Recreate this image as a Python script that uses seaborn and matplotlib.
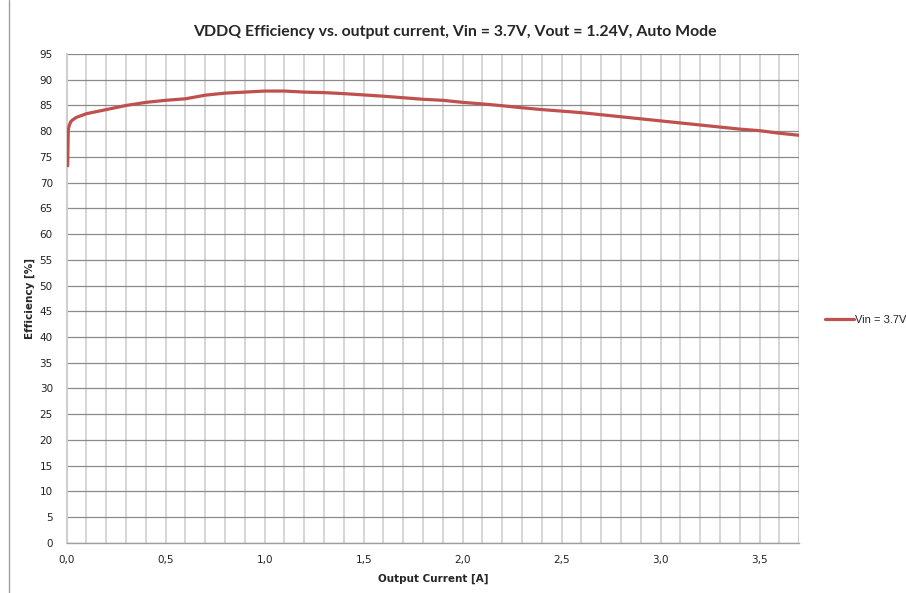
import numpy as np
import pandas as pd
import matplotlib
matplotlib.use("Agg")
import matplotlib.pyplot as plt
from matplotlib.ticker import MultipleLocator, FuncFormatter
from matplotlib.lines import Line2D
import seaborn as sns

# values
current = [0.005, 0.008, 0.012, 0.02, 0.03, 0.05, 0.1, 0.2, 0.3, 0.4, 0.5,
           0.6, 0.7, 0.8, 0.9, 1.0, 1.1, 1.2, 1.3, 1.4, 1.5, 1.6, 1.7, 1.8,
           1.9, 2.0, 2.1, 2.2, 2.3, 2.4, 2.5, 2.6, 2.7, 2.8, 2.9, 3.0, 3.1,
           3.2, 3.3, 3.4, 3.5, 3.6, 3.7]
efficiency = [73.3, 80.2, 81.0, 81.8, 82.2, 82.7, 83.4, 84.2, 85.0, 85.6, 86.0,
              86.3, 87.0, 87.4, 87.6, 87.8, 87.8, 87.6, 87.5, 87.3, 87.05, 86.8, 86.5, 86.2,
              86.0, 85.6, 85.3, 84.95, 84.55, 84.2, 83.9, 83.6, 83.2, 82.8, 82.4, 82.0, 81.6,
              81.2, 80.8, 80.4, 80.1, 79.6, 79.2]
series_name = "Vin = 3.7V"

df = pd.DataFrame({"Output Current [A]": current, "Efficiency [%]": efficiency})
df["series"] = series_name

sns.set_style("white")
plt.rcParams["font.family"] = ["DejaVu Sans"]

fig = plt.figure(figsize=(9.06, 5.93), dpi=100)
ax = fig.add_axes([0.0736, 0.0848, 0.8086, 0.8241])

sns.lineplot(data=df, x="Output Current [A]", y="Efficiency [%]", hue="series",
             palette=["#C0504D"], linewidth=2.3, ax=ax, legend=False, zorder=5)

ax.set_xlim(0, 3.7)
ax.set_ylim(0, 95)
ax.yaxis.set_major_locator(MultipleLocator(5))
ax.xaxis.set_major_locator(MultipleLocator(0.5))
ax.xaxis.set_minor_locator(MultipleLocator(0.1))
ax.xaxis.set_major_formatter(FuncFormatter(lambda v, p: f"{v:.1f}".replace(".", ",")))

ax.grid(axis="y", which="major", color="#8a8a8a", linewidth=0.9)
ax.grid(axis="x", which="both", color="#cfcfcf", linewidth=1.2)
ax.set_axisbelow(True)

for side in ["top", "right"]:
    ax.spines[side].set_visible(False)
ax.spines["left"].set_color("#cfcfcf")
ax.spines["left"].set_linewidth(1.5)
ax.spines["bottom"].set_color("#a0a0a0")
ax.spines["bottom"].set_linewidth(1.0)
ax.axvline(3.7, color="#a0a0a0", linewidth=1.0)

ax.tick_params(axis="y", which="major", length=4, color="#a0a0a0", width=1,
               labelsize=7.5, pad=6, labelcolor="#222222")
ax.tick_params(axis="x", which="both", length=0, labelsize=7.5, pad=9,
               labelcolor="#222222")

ax.set_xlabel("Output Current [A]", fontsize=7.5, fontweight="bold", labelpad=6)
ax.set_ylabel("Efficiency [%]", fontsize=7.5, fontweight="bold", labelpad=3)

ax.set_title("VDDQ Efficiency vs. output current, Vin = 3.7V, Vout = 1.24V, Auto Mode",
             fontsize=11.4, fontweight="bold", family="Lato", pad=13, x=0.53)

handle = Line2D([], [], color="#C0504D", linewidth=2.3)
fig.legend([handle], [series_name], loc="center left", bbox_to_anchor=(0.911, 0.46),
           frameon=False, prop={"family": "Liberation Sans", "size": 8},
           handlelength=2.6, handletextpad=0.05, borderaxespad=0, borderpad=0)

fig.add_artist(Line2D([0.0103, 0.0103], [0, 1], color="#a0a0a0", linewidth=1.0,
                      transform=fig.transFigure))

fig.savefig("out.png", dpi=100)
